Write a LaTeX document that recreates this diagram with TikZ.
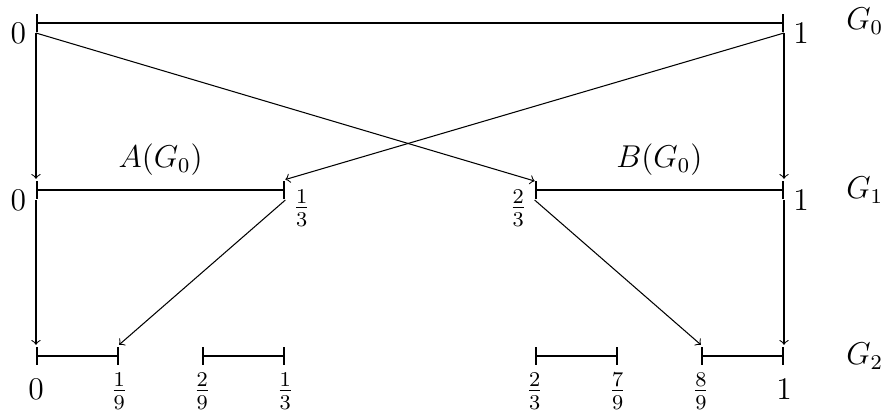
\documentclass[tikz,border=0pt]{standalone}
\begin{document}
\begin{tikzpicture}[
  seg/.style={thick,|-|},
  conn/.style={->},
  lab/.style={inner sep=0pt,anchor=center,font=\large},
  endlab/.style={inner sep=0pt,anchor=center,font=\normalsize}
]
\useasboundingbox (-0.481,0.3075) rectangle (11.377,-5.214);
\def\yA{-2.233}
\def\yB{-4.452}
% points
\coordinate (a0) at (0,0);
\coordinate (b0) at (10,0);
\coordinate (a1) at (0,\yA);
\coordinate (c1) at (3.3333,\yA);
\coordinate (d1) at (6.6667,\yA);
\coordinate (b1) at (10,\yA);
\coordinate (a2) at (0,\yB);
\coordinate (e2) at (1.1111,\yB);
\coordinate (f2) at (2.2222,\yB);
\coordinate (c2) at (3.3333,\yB);
\coordinate (d2) at (6.6667,\yB);
\coordinate (g2) at (7.7778,\yB);
\coordinate (h2) at (8.8889,\yB);
\coordinate (b2) at (10,\yB);
% segments
\draw[seg] (a0) -- (b0);
\draw[seg] (a1) -- (c1);
\draw[seg] (d1) -- (b1);
\draw[seg] (a2) -- (e2);
\draw[seg] (f2) -- (c2);
\draw[seg] (d2) -- (g2);
\draw[seg] (h2) -- (b2);
% level labels
\node[lab] (G0) at (11.08,0.02) {$G_0$};
\node[lab] (G1) at (11.08,\yA) {$G_1$};
\node[lab] (G2) at (11.08,\yB) {$G_2$};
% G0 labels
\node[lab] (l0a) at ([shift={(-0.235,-0.14)}]a0) {$0$};
\node[lab] (l0b) at ([shift={(0.23,-0.14)}]b0) {$1$};
% G1 labels
\node[lab] (l1a) at ([shift={(-0.235,-0.14)}]a1) {$0$};
\node[lab] (l1c) at ([shift={(0.22,-0.24)}]c1) {$\frac{1}{3}$};
\node[lab] (l1d) at ([shift={(-0.22,-0.24)}]d1) {$\frac{2}{3}$};
\node[lab] (l1b) at ([shift={(0.23,-0.14)}]b1) {$1$};
\node[lab] (A) at (1.6667,\yA+0.4) {$A(G_0)$};
\node[lab] (B) at (8.3333,\yA+0.4) {$B(G_0)$};
% G2 labels
\node[lab,font=\large] (l2a) at ([yshift=-0.45cm]a2) {$0$};
\node[lab] (l2e) at ([yshift=-0.47cm]e2) {$\frac{1}{9}$};
\node[lab] (l2f) at ([yshift=-0.47cm]f2) {$\frac{2}{9}$};
\node[lab] (l2c) at ([yshift=-0.47cm]c2) {$\frac{1}{3}$};
\node[lab] (l2d) at ([yshift=-0.47cm]d2) {$\frac{2}{3}$};
\node[lab] (l2g) at ([yshift=-0.47cm]g2) {$\frac{7}{9}$};
\node[lab] (l2h) at ([yshift=-0.47cm]h2) {$\frac{8}{9}$};
\node[lab,font=\large] (l2b) at ([yshift=-0.45cm]b2) {$1$};
% connectors
\draw[conn] ([yshift=-0.134cm]a0) -- ([yshift=0.15cm]a1);
\draw[conn] ([yshift=-0.134cm]b0) -- ([yshift=0.15cm]b1);
\draw[conn] ([yshift=-0.134cm]a0) -- ([yshift=0.12cm]d1);
\draw[conn] ([yshift=-0.134cm]b0) -- ([yshift=0.14cm]c1);
\draw[conn] ([yshift=-0.134cm]a1) -- ([yshift=0.15cm]a2);
\draw[conn] ([yshift=-0.134cm]b1) -- ([yshift=0.15cm]b2);
\draw[conn] ([yshift=-0.134cm]c1) -- ([yshift=0.15cm]e2);
\draw[conn] ([yshift=-0.134cm]d1) -- ([yshift=0.15cm]h2);
\end{tikzpicture}
\end{document}
